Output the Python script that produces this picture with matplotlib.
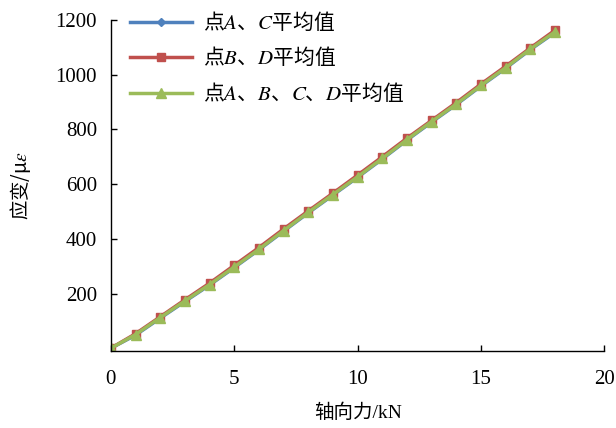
import matplotlib
matplotlib.use("Agg")
import matplotlib.pyplot as plt

# Data
force = list(range(0, 19))
avg_ac = [0, 48, 110, 171, 231, 295, 360, 428, 495, 560, 625, 692, 761, 827, 891, 959, 1024, 1092, 1155]
avg_bd = [0, 53, 115, 177, 238, 303, 368, 436, 502, 567, 633, 700, 768, 833, 898, 966, 1031, 1098, 1163]
avg_abcd = [0, 50, 112, 173, 233, 297, 362, 430, 497, 562, 627, 694, 763, 829, 893, 961, 1026, 1094, 1157]

labels = ["点$A$、$C$平均值", "点$B$、$D$平均值", "点$A$、$B$、$C$、$D$平均值"]
yticks = [200, 400, 600, 800, 1000, 1200]
xticks = [0, 5, 10, 15, 20]

plt.rcParams['font.family'] = ['Liberation Serif', 'Noto Sans CJK SC']
plt.rcParams['mathtext.fontset'] = 'stix'

fig = plt.figure(figsize=(6.16, 4.28), dpi=100)
ax = fig.add_axes([0.180, 0.180, 0.801, 0.773])

ax.plot(force, avg_ac, color='#4F81BD', lw=2.5, marker='D', ms=4.5, label=labels[0])
ax.plot(force, avg_bd, color='#C0504D', lw=2.5, marker='s', ms=6, label=labels[1])
ax.plot(force, avg_abcd, color='#9BBB59', lw=2.5, marker='^', ms=6.5, label=labels[2])

ax.set_xlim(0, 20)
ax.set_ylim(-10, 1200)
ax.set_xticks(xticks)
ax.set_yticks(yticks)
ax.tick_params(direction='in', labelsize=15, length=4, width=1)
ax.tick_params(axis='x', pad=14)
ax.tick_params(axis='y', pad=10)
for s in ['top', 'right']:
    ax.spines[s].set_visible(False)
for s in ['left', 'bottom']:
    ax.spines[s].set_linewidth(1)

ax.set_xlabel('轴向力/kN', fontsize=14, labelpad=10)
ax.set_ylabel('应变/μ$\\varepsilon$', fontsize=14, labelpad=16,
              family='Noto Sans CJK SC')

ax.legend(loc='upper left', bbox_to_anchor=(0.0, 1.085), frameon=False,
          prop={'family': 'Noto Sans CJK SC', 'size': 15},
          handlelength=3.0, labelspacing=0.6, handletextpad=0.5)

fig.savefig('out.png', dpi=100)
